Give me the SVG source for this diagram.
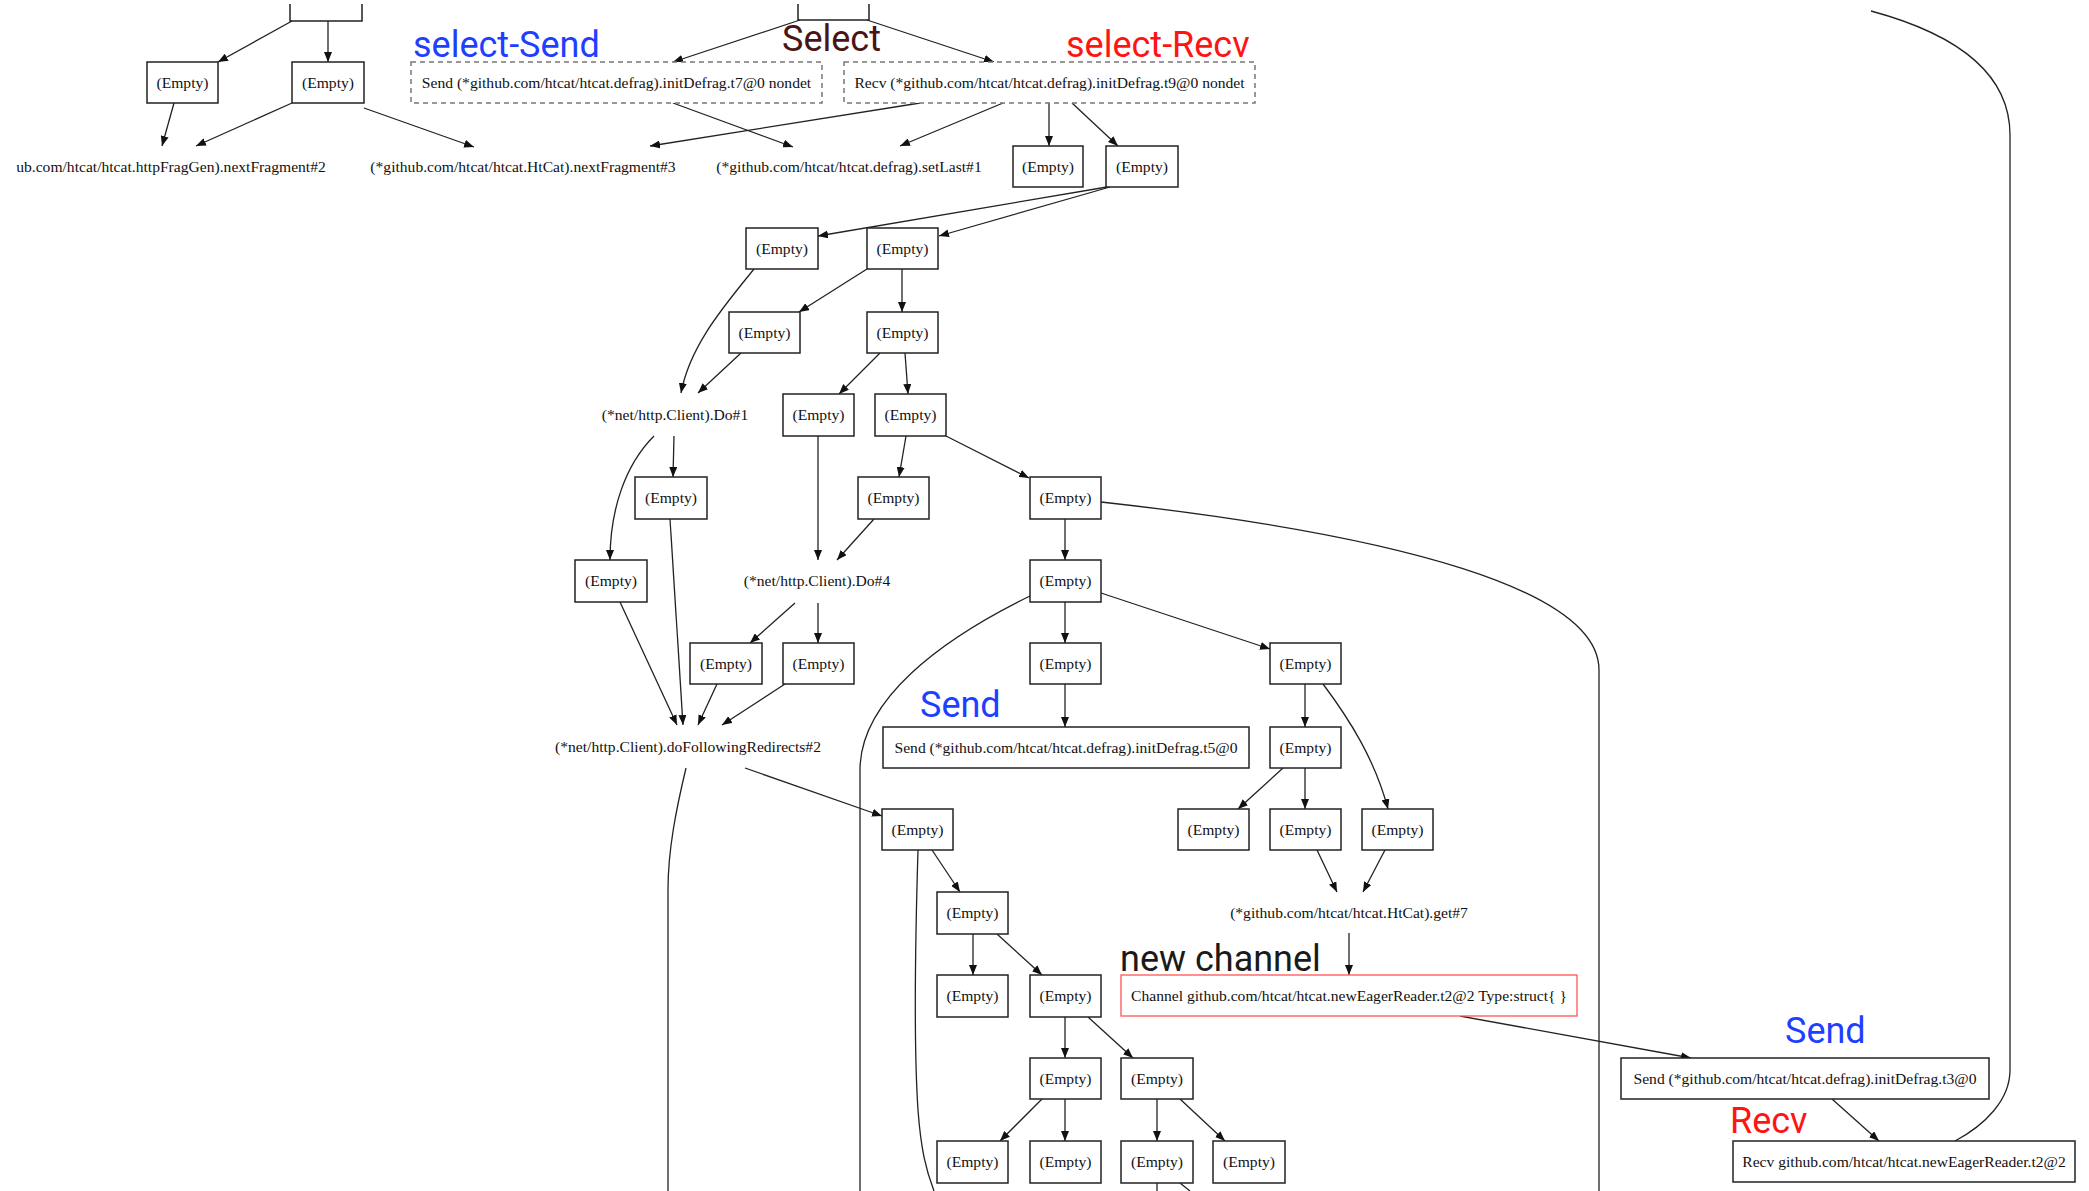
<svg xmlns="http://www.w3.org/2000/svg" width="2089" height="1191" viewBox="0 0 2089 1191">
<style>
.b{fill:#fff;stroke:#222;stroke-width:1.5}
.d{fill:#fff;stroke:#777;stroke-width:1.5;stroke-dasharray:5,4}
.r{fill:#fff;stroke:#f55;stroke-width:1.3}
.t{font-family:"Liberation Serif","Times New Roman",serif;font-size:15.6px;text-anchor:middle;fill:#111}
.e path{fill:none;stroke:#222;stroke-width:1.3}
.e path.a{marker-end:url(#ah)}
.l{font-family:Roboto,"Liberation Sans",sans-serif;font-size:36px}
</style>
<defs>
<marker id="ah" markerUnits="userSpaceOnUse" markerWidth="11" markerHeight="8" refX="10" refY="4" orient="auto"><path d="M0,0 L10,4 L0,8 z" fill="#111"/></marker>
</defs>
<rect width="2089" height="1191" fill="#fff"/>
<g class="e" id="connectors">
<path class="a" d="M292,21 L218,62"/>
<path class="a" d="M328,21 L328,62"/>
<path class="a" d="M174,103 L162,146"/>
<path class="a" d="M292,103 L196,146"/>
<path class="a" d="M364,108 L474,147"/>
<path class="a" d="M800,20 L673,62"/>
<path class="a" d="M867,20 L994,62"/>
<path class="a" d="M673,103 L793,147"/>
<path class="a" d="M920,103 L650,146"/>
<path class="a" d="M1003,103 L900,146"/>
<path class="a" d="M1049,103 L1049,146"/>
<path class="a" d="M1072,103 L1118,146"/>
<path class="a" d="M1107,187 L818,236"/>
<path class="a" d="M1110,187 L939,236"/>
<path class="a" d="M867,269 L799,312"/>
<path class="a" d="M902,269 L902,312"/>
<path class="a" d="M754,269 C725,305 690,345 681,393"/>
<path class="a" d="M741,353 L698,393"/>
<path class="a" d="M880,353 L839,394"/>
<path class="a" d="M905,353 L908,394"/>
<path class="a" d="M946,436 L1029,478"/>
<path class="a" d="M674,436 L673,477"/>
<path class="a" d="M654,436 C625,465 610,510 610,560"/>
<path class="a" d="M818,436 L818,560"/>
<path class="a" d="M906,436 L899,477"/>
<path class="a" d="M874,519 L837,560"/>
<path d="M1101,502 C1400,535 1599,590 1599,670 L1599,1191"/>
<path class="a" d="M1065,519 L1065,560"/>
<path class="a" d="M670,519 C675,600 680,670 683,725"/>
<path class="a" d="M620,602 L677,725"/>
<path class="a" d="M795,603 L750,643"/>
<path class="a" d="M818,603 L818,643"/>
<path class="a" d="M1065,602 L1065,643"/>
<path class="a" d="M1101,593 L1270,649"/>
<path d="M1030,596 C940,640 860,700 860,770 L860,1191"/>
<path class="a" d="M717,684 L698,725"/>
<path class="a" d="M785,684 L722,725"/>
<path class="a" d="M1065,684 L1065,727"/>
<path class="a" d="M1305,684 L1305,727"/>
<path class="a" d="M1323,684 C1350,720 1375,760 1388,809"/>
<path class="a" d="M745,768 L882,816"/>
<path d="M686,768 C676,810 668,850 668,890 L668,1191"/>
<path class="a" d="M1283,768 L1238,809"/>
<path class="a" d="M1305,768 L1305,809"/>
<path class="a" d="M932,850 L960,892"/>
<path d="M918,850 C915,950 914,1050 918,1110 C921,1150 926,1170 934,1191"/>
<path class="a" d="M1317,850 L1337,892"/>
<path class="a" d="M1385,850 L1363,892"/>
<path class="a" d="M1349,933 L1349,975"/>
<path class="a" d="M973,934 L973,975"/>
<path class="a" d="M997,934 L1042,975"/>
<path class="a" d="M1460,1016 L1691,1058"/>
<path class="a" d="M1065,1017 L1065,1058"/>
<path class="a" d="M1088,1017 L1133,1058"/>
<path class="a" d="M1832,1099 L1879,1141"/>
<path d="M1871,11 C1960,35 2010,75 2010,135 L2010,1070 C2010,1100 1985,1125 1955,1141"/>
<path class="a" d="M1042,1099 L1000,1141"/>
<path class="a" d="M1065,1099 L1065,1141"/>
<path class="a" d="M1157,1099 L1157,1141"/>
<path class="a" d="M1180,1099 L1225,1141"/>
<path d="M1157,1183 L1157,1191"/>
<path d="M1180,1183 L1190,1191"/>
</g>
<g id="nA"><path d="M290,4 V21 H362 V4" fill="none" stroke="#222" stroke-width="1.5"/></g>
<g id="nSelect"><path d="M798,4 V20 H869 V4" fill="none" stroke="#222" stroke-width="1.5"/></g>
<g id="n1"><rect class="b" x="147" y="62" width="71" height="41"/><text class="t" x="182.5" y="88">(Empty)</text></g>
<g id="n2"><rect class="b" x="292" y="62" width="72" height="41"/><text class="t" x="328" y="88">(Empty)</text></g>
<g id="nSend7"><rect class="d" x="411" y="62" width="411" height="41"/><text class="t" x="616.5" y="88">Send (*github.com/htcat/htcat.defrag).initDefrag.t7@0 nondet</text></g>
<g id="nRecv9"><rect class="d" x="844" y="62" width="411" height="41"/><text class="t" x="1049.5" y="88">Recv (*github.com/htcat/htcat.defrag).initDefrag.t9@0 nondet</text></g>
<g id="tHttp"><text class="t" x="171" y="172">ub.com/htcat/htcat.httpFragGen).nextFragment#2</text></g>
<g id="tNext3"><text class="t" x="523" y="172">(*github.com/htcat/htcat.HtCat).nextFragment#3</text></g>
<g id="tSetLast"><text class="t" x="849" y="172">(*github.com/htcat/htcat.defrag).setLast#1</text></g>
<g id="n3"><rect class="b" x="1013" y="146" width="70" height="41"/><text class="t" x="1048" y="171.5">(Empty)</text></g>
<g id="n4"><rect class="b" x="1106" y="146" width="72" height="41"/><text class="t" x="1142" y="171.5">(Empty)</text></g>
<g id="n5"><rect class="b" x="746" y="228" width="72" height="41"/><text class="t" x="782" y="253.5">(Empty)</text></g>
<g id="n6"><rect class="b" x="867" y="228" width="71" height="41"/><text class="t" x="902.5" y="253.5">(Empty)</text></g>
<g id="n7"><rect class="b" x="729" y="312" width="71" height="41"/><text class="t" x="764.5" y="337.5">(Empty)</text></g>
<g id="n8"><rect class="b" x="867" y="312" width="71" height="41"/><text class="t" x="902.5" y="337.5">(Empty)</text></g>
<g id="tDo1"><text class="t" x="675" y="420">(*net/http.Client).Do#1</text></g>
<g id="n9"><rect class="b" x="783" y="394" width="71" height="42"/><text class="t" x="818.5" y="420">(Empty)</text></g>
<g id="n10"><rect class="b" x="875" y="394" width="71" height="42"/><text class="t" x="910.5" y="420">(Empty)</text></g>
<g id="n11"><rect class="b" x="635" y="477" width="72" height="42"/><text class="t" x="671" y="503">(Empty)</text></g>
<g id="n12"><rect class="b" x="858" y="477" width="71" height="42"/><text class="t" x="893.5" y="503">(Empty)</text></g>
<g id="n13"><rect class="b" x="1030" y="477" width="71" height="42"/><text class="t" x="1065.5" y="503">(Empty)</text></g>
<g id="n14"><rect class="b" x="575" y="560" width="72" height="42"/><text class="t" x="611" y="586">(Empty)</text></g>
<g id="tDo4"><text class="t" x="817" y="586">(*net/http.Client).Do#4</text></g>
<g id="n15"><rect class="b" x="1030" y="560" width="71" height="42"/><text class="t" x="1065.5" y="586">(Empty)</text></g>
<g id="n16"><rect class="b" x="690" y="643" width="72" height="41"/><text class="t" x="726" y="668.5">(Empty)</text></g>
<g id="n17"><rect class="b" x="783" y="643" width="71" height="41"/><text class="t" x="818.5" y="668.5">(Empty)</text></g>
<g id="n18"><rect class="b" x="1030" y="643" width="71" height="41"/><text class="t" x="1065.5" y="668.5">(Empty)</text></g>
<g id="n19"><rect class="b" x="1270" y="643" width="71" height="41"/><text class="t" x="1305.5" y="668.5">(Empty)</text></g>
<g id="tDoFR"><text class="t" x="688" y="752">(*net/http.Client).doFollowingRedirects#2</text></g>
<g id="nSend5"><rect class="b" x="883" y="727" width="366" height="41"/><text class="t" x="1066" y="752.5">Send (*github.com/htcat/htcat.defrag).initDefrag.t5@0</text></g>
<g id="n20"><rect class="b" x="1270" y="727" width="71" height="41"/><text class="t" x="1305.5" y="752.5">(Empty)</text></g>
<g id="n21"><rect class="b" x="882" y="809" width="71" height="41"/><text class="t" x="917.5" y="834.5">(Empty)</text></g>
<g id="n22"><rect class="b" x="1178" y="809" width="71" height="41"/><text class="t" x="1213.5" y="834.5">(Empty)</text></g>
<g id="n23"><rect class="b" x="1270" y="809" width="71" height="41"/><text class="t" x="1305.5" y="834.5">(Empty)</text></g>
<g id="n24"><rect class="b" x="1362" y="809" width="71" height="41"/><text class="t" x="1397.5" y="834.5">(Empty)</text></g>
<g id="n25"><rect class="b" x="937" y="892" width="71" height="42"/><text class="t" x="972.5" y="918">(Empty)</text></g>
<g id="tGet7"><text class="t" x="1349" y="918">(*github.com/htcat/htcat.HtCat).get#7</text></g>
<g id="n26"><rect class="b" x="937" y="975" width="71" height="42"/><text class="t" x="972.5" y="1001">(Empty)</text></g>
<g id="n27"><rect class="b" x="1030" y="975" width="71" height="42"/><text class="t" x="1065.5" y="1001">(Empty)</text></g>
<g id="nChan"><rect class="r" x="1121" y="975" width="456" height="41"/><text class="t" x="1349" y="1000.5">Channel github.com/htcat/htcat.newEagerReader.t2@2 Type:struct{ }</text></g>
<g id="n28"><rect class="b" x="1030" y="1058" width="71" height="41"/><text class="t" x="1065.5" y="1083.5">(Empty)</text></g>
<g id="n29"><rect class="b" x="1121" y="1058" width="72" height="41"/><text class="t" x="1157" y="1083.5">(Empty)</text></g>
<g id="nSend3"><rect class="b" x="1621" y="1058" width="368" height="41"/><text class="t" x="1805" y="1083.5">Send (*github.com/htcat/htcat.defrag).initDefrag.t3@0</text></g>
<g id="n30"><rect class="b" x="937" y="1141" width="71" height="42"/><text class="t" x="972.5" y="1167">(Empty)</text></g>
<g id="n31"><rect class="b" x="1030" y="1141" width="71" height="42"/><text class="t" x="1065.5" y="1167">(Empty)</text></g>
<g id="n32"><rect class="b" x="1121" y="1141" width="72" height="42"/><text class="t" x="1157" y="1167">(Empty)</text></g>
<g id="n33"><rect class="b" x="1213" y="1141" width="72" height="42"/><text class="t" x="1249" y="1167">(Empty)</text></g>
<g id="nRecv2"><rect class="b" x="1733" y="1141" width="342" height="41"/><text class="t" x="1904" y="1166.5">Recv github.com/htcat/htcat.newEagerReader.t2@2</text></g>
<g id="labels">
<text class="l" x="413" y="57" fill="#1f3fff">select-Send</text>
<text class="l" x="782" y="51" fill="#4a1414">Select</text>
<text class="l" x="1066" y="57" fill="#ff1414">select-Recv</text>
<text class="l" x="920" y="717" fill="#1f3fff">Send</text>
<text class="l" x="1120" y="971" fill="#1a1a1a">new channel</text>
<text class="l" x="1785" y="1043" fill="#1f3fff">Send</text>
<text class="l" x="1730" y="1133" fill="#ff1414">Recv</text>
</g>
</svg>
